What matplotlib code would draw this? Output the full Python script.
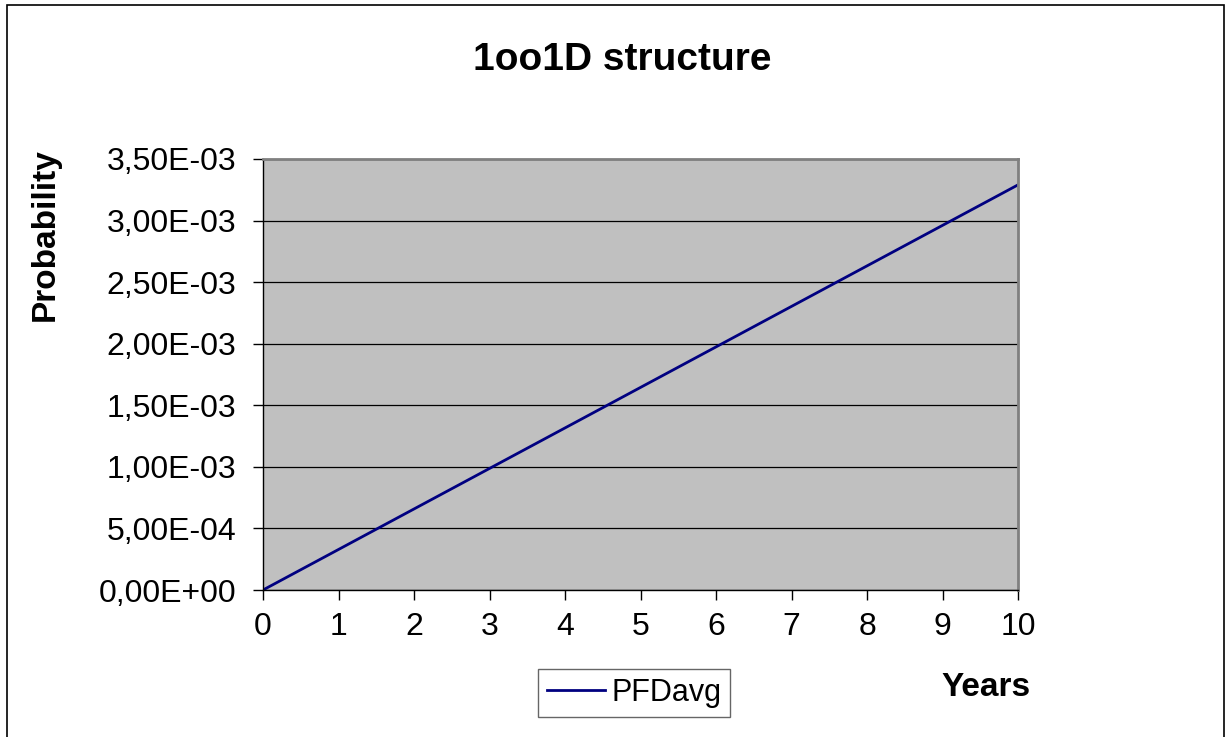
import matplotlib.pyplot as plt
import numpy as np
from matplotlib.ticker import FuncFormatter, MultipleLocator
from matplotlib.patches import Rectangle

# data
years = [0, 1, 2, 3, 4, 5, 6, 7, 8, 9, 10]
pfd_avg = [0.0, 3.29e-4, 6.58e-4, 9.87e-4, 1.316e-3, 1.645e-3,
           1.974e-3, 2.303e-3, 2.632e-3, 2.961e-3, 3.29e-3]

plt.rcParams['font.family'] = ['Liberation Sans', 'DejaVu Sans']

fig = plt.figure(figsize=(12.31, 7.37), dpi=100)
fig.patches.append(Rectangle((7 / 1231, -0.01), (1224 - 7) / 1231, 1 - 5 / 737 + 0.01,
                             transform=fig.transFigure, fill=False,
                             edgecolor='black', linewidth=1.2))

ax = fig.add_axes([263 / 1231, 1 - 590 / 737, 755 / 1231, 431 / 737])
ax.set_facecolor('#c0c0c0')
ax.plot(np.array(years), np.array(pfd_avg), color='#000080', linewidth=2, label='PFDavg')

ax.set_xlim(0, 10)
ax.set_ylim(0, 3.5e-3)
ax.xaxis.set_major_locator(MultipleLocator(1))
ax.yaxis.set_major_locator(MultipleLocator(5e-4))
ax.yaxis.set_major_formatter(FuncFormatter(lambda v, p: ('%.2E' % v).replace('.', ',')))
ax.grid(axis='y', color='black', linewidth=0.9)
ax.set_axisbelow(True)

ax.tick_params(labelsize=23, length=7, width=1, direction='out')
ax.tick_params(axis='y', pad=12)
ax.tick_params(axis='x', pad=9)
for s in ['left', 'bottom']:
    ax.spines[s].set_color('black')
    ax.spines[s].set_linewidth(1)
for s in ['top', 'right']:
    ax.spines[s].set_color('#808080')
    ax.spines[s].set_linewidth(2)

fig.text(622 / 1231, 1 - 60 / 737, '1oo1D structure', fontsize=28, fontweight='bold',
         ha='center', va='center')
fig.text(45 / 1231, 1 - 235 / 737, 'Probability', fontsize=24, fontweight='bold',
         rotation=90, ha='center', va='center')
fig.text(986 / 1231, 1 - 687 / 737, 'Years', fontsize=24, fontweight='bold',
         ha='center', va='center')

leg = ax.legend(loc='center', bbox_to_anchor=(634 / 1231, 1 - 693 / 737),
                bbox_transform=fig.transFigure, fontsize=22, frameon=True,
                fancybox=False, edgecolor='#404040', handlelength=1.9,
                handletextpad=0.2, borderpad=0.3, borderaxespad=0)
leg.get_frame().set_linewidth(1)

fig.savefig('out.png', dpi=100)
